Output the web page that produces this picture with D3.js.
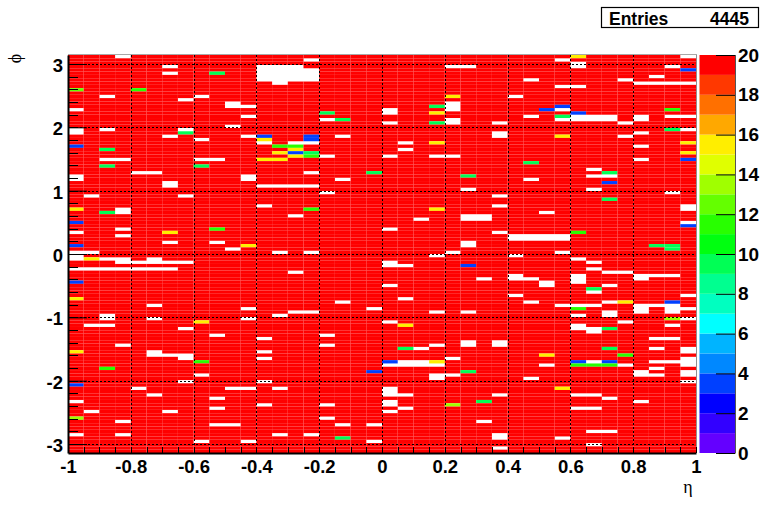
<!DOCTYPE html>
<html>
<head>
<meta charset="utf-8">
<script src="https://cdn.jsdelivr.net/npm/d3@7/dist/d3.min.js"></script>
<style>
html,body{margin:0;padding:0;background:#fff;}
svg{display:block;}
text{font-family:"Liberation Sans",Arial,sans-serif;font-weight:bold;fill:#000;}
</style>
</head>
<body>
<svg id="c" width="770" height="505"></svg>
<script>
// Binning of the histogram
const etaBins = 40, phiBins = 120, etaExtent = [-1, 1], phiExtent = [-Math.PI, Math.PI];
const zAxisMax = 20;
const entries = "4445";
const etaTicks = [-1,-0.8,-0.6,-0.4,-0.2,0,0.2,0.4,0.6,0.8,1];
const phiTicks = [-3,-2,-1,0,1,2,3];
const zTicks = [0,2,4,6,8,10,12,14,16,18,20];
const zBandColors = ["#6400ff","#3200ff","#0000ff","#0040ff","#0088ff","#00b4ff","#00ffff","#00ffc0","#00ff90","#00ff55",
  "#00ff10","#28ff00","#64ff00","#a0ff00","#e0ff00","#ffee00","#ffa800","#ff7000","#ff3800","#ff0000"];

// Cells as [eta bin, phi bin counted from the top]; every other cell is at or above the scale maximum.
const emptyCells = [[3,0],[39,0],[15,1],[31,1],[32,2],[6,3],[12,3],[13,3],[14,3],[24,3],[25,3],[32,3],[38,3],
[12,4],[13,4],[14,4],[15,4],[6,5],[12,5],[13,5],[14,5],[15,5],[12,6],[13,6],[14,6],[15,6],[37,6],
[12,7],[13,7],[14,7],[15,7],[29,7],[35,7],[13,8],[36,8],[37,8],[38,8],[39,8],[31,9],[32,9],
[2,12],[8,12],[28,12],[7,13],[10,14],[24,14],[10,15],[11,15],[24,15],[0,16],[20,16],[24,16],[31,16],[20,17],
[11,18],[29,18],[32,18],[33,18],[34,18],[36,18],[38,18],[39,18],[16,19],[24,19],[31,19],[32,19],[33,19],[34,19],[36,19],
[20,20],[24,20],[27,20],[35,20],[10,21],[0,22],[2,22],[7,22],[39,22],[0,23],[27,23],[36,23],
[6,24],[11,24],[17,24],[27,24],[35,24],[8,25],[12,26],[14,26],[15,26],[21,26],[36,27],[21,28],
[16,30],[20,30],[23,30],[24,30],[2,31],[3,31],[8,31],[9,31],[36,31],[33,34],[4,35],[5,35],[15,35],
[0,36],[11,36],[33,36],[34,36],[0,37],[11,37],[17,37],[29,37],[6,38],[6,39],[12,39],[13,39],[14,39],[15,39],
[25,40],[33,40],[16,41],[38,41],[1,42],[7,42],[27,42],[12,45],[27,45],[39,45],[3,46],[39,46],[3,47],[30,47],
[14,48],[25,48],[26,48],[22,49],[25,49],[26,49],[39,50],[3,52],[20,52],[0,53],[27,53],[3,54],[28,54],[29,54],[30,54],[31,54],
[28,55],[29,55],[30,55],[31,55],[6,56],[9,56],[25,56],[25,57],[10,58],[0,59],[1,59],[13,59],[15,59],[24,59],[31,59],
[0,60],[23,60],[28,60],[0,61],[2,61],[3,61],[5,61],[32,61],[3,62],[4,62],[5,62],[6,62],[7,62],[20,62],[33,62],
[20,63],[21,63],[0,64],[1,64],[2,64],[3,64],[4,64],[5,64],[6,64],[33,64],[14,65],[34,65],[35,65],
[28,66],[32,66],[36,66],[37,66],[38,66],[26,67],[28,67],[29,67],[32,67],[36,67],[30,68],[32,68],[20,69],[30,69],[34,69],
[33,71],[28,72],[39,72],[21,73],[17,74],[29,74],[34,74],[5,75],[31,75],[32,75],[33,75],[36,75],[37,75],[38,75],
[11,76],[19,76],[36,76],[38,76],[39,76],[14,77],[15,77],[23,77],[25,77],[34,77],[36,77],[38,77],
[2,78],[13,78],[32,78],[34,78],[2,79],[5,79],[11,79],[39,79],[20,80],[35,80],[1,81],[2,81],[32,81],[38,81],
[7,82],[32,82],[33,82],[33,83],[9,84],[16,84],[12,85],[37,85],[38,85],[25,86],[27,86],[3,87],[16,87],[23,87],[25,87],[27,87],
[22,88],[37,88],[39,88],[5,89],[12,89],[39,89],[5,90],[6,90],[7,90],[7,91],[12,91],[24,91],[39,91],
[21,92],[22,92],[33,92],[37,92],[38,92],[39,92],[20,93],[21,93],[22,93],[23,93],[30,93],[35,93],[39,93],
[37,94],[36,95],[39,95],[8,96],[23,96],[24,96],[36,96],[37,96],[39,96],[23,97],[29,97],[7,98],[12,98],[39,98],
[4,100],[10,100],[11,100],[13,100],[20,100],[20,101],[5,102],[20,102],[21,102],[27,102],[32,102],[33,102],[9,103],[34,103],
[0,104],[20,104],[36,104],[12,105],[16,105],[20,105],[9,106],[21,106],[32,106],[33,106],[1,107],[6,107],[20,107],
[16,109],[3,110],[26,110],[9,111],[10,111],[17,111],[19,111],[33,113],[34,113],[0,114],[3,114],[13,114],[15,114],[27,114],
[27,115],[31,115],[8,116],[11,116],[19,116],[33,117],[27,118]];
const value3Cells = [[39,4],[31,15],[30,16],[32,17],[12,24],[15,24],[15,25],[0,27],[14,29],[39,31],[34,38],[0,50],[39,51],
[0,57],[25,63],[0,68],[38,74],[19,95],[0,99],[20,92],[32,92],[34,92]];
const value9Cells = [[9,5],[16,17],[17,19],[23,15],[7,23],[31,18],[23,20],[38,22],[2,28],[15,29],[2,33],[8,33],[19,35],[34,35],
[25,36],[2,47],[34,43],[37,57],[38,57],[38,58],[33,70],[21,88],[34,88],[34,82],[25,95],[26,104],[17,115],[29,32]];
const value11Cells = [[4,10],[38,16],[13,27],[14,27],[15,30],[15,46],[32,53],[9,52],[32,76],[8,92],[2,94],[35,90],[32,93],[33,93],[34,93]];
const value12Cells = [[0,10]];
const value13Cells = [[38,79],[0,109],[24,105]];
const value15Cells = [[32,0],[24,12],[23,17],[12,25],[31,24],[14,28],[13,29],[14,30],[12,31],[13,31],[23,26],[39,26],[39,29],
[0,46],[23,46],[6,53],[11,57],[1,61],[0,73],[35,74],[21,81],[8,80],[0,89],[30,90],[23,92],[31,100]];

const svg = d3.select("#c");
const plot = {l:68, r:696, t:55, b:453};
const x = d3.scaleLinear().domain(etaExtent).range([plot.l, plot.r]);
const y = d3.scaleLinear().domain(phiExtent).range([plot.b, plot.t]);
const z = d3.scaleLinear().domain([0, zAxisMax]).range([453, 55]);
const color = v => zBandColors[Math.min(Math.floor(v), zBandColors.length - 1)];

const etaStep = (etaExtent[1]-etaExtent[0]) / etaBins;
const phiStep = (phiExtent[1]-phiExtent[0]) / phiBins;

// Build grid of bin contents
const key = (c,r) => c + "_" + r;
const contents = new Map();
emptyCells.forEach(([c,r]) => contents.set(key(c,r), 0));
[[3.5,value3Cells],[9.5,value9Cells],[11.5,value11Cells],[12.5,value12Cells],[13.5,value13Cells],[15.5,value15Cells]]
  .forEach(([v,list]) => list.forEach(([c,r]) => contents.set(key(c,r), v)));
const cells = [];
d3.range(etaBins).forEach(c => d3.range(phiBins).forEach(r => {
  const v = contents.has(key(c,r)) ? contents.get(key(c,r)) : zAxisMax;
  if (v > 0) cells.push({c, r, v});
}));

svg.append("g").selectAll("rect").data(cells).join("rect")
  .attr("x", d => x(etaExtent[0] + d.c*etaStep))
  .attr("width", x(etaStep) - x(0))
  .attr("y", d => y(phiExtent[1] - d.r*phiStep))
  .attr("height", y(0) - y(phiStep))
  .attr("fill", d => color(d.v));

// Dotted grid
const grid = svg.append("g").attr("stroke","#000").attr("stroke-width",1).attr("stroke-dasharray","2,2");
grid.selectAll(".v").data(etaTicks.slice(1,-1)).join("line").attr("class","v")
  .attr("x1", d=>Math.round(x(d))+0.5).attr("x2", d=>Math.round(x(d))+0.5).attr("y1",plot.t).attr("y2",plot.b);
grid.selectAll(".h").data(phiTicks).join("line").attr("class","h")
  .attr("y1", d=>Math.round(y(d))+0.5).attr("y2", d=>Math.round(y(d))+0.5).attr("x1",plot.l).attr("x2",plot.r);

// Frame
svg.append("line").attr("x1",plot.l).attr("x2",plot.r+1).attr("y1",plot.t-0.5).attr("y2",plot.t-0.5).attr("stroke","#a8a8a8");
svg.append("line").attr("x1",plot.r+0.5).attr("x2",plot.r+0.5).attr("y1",plot.t).attr("y2",plot.b).attr("stroke","#909090");

// Minor ticks
const minorEta = d3.range(0, etaBins+1).map(i => etaExtent[0] + i*etaStep);
const ticks = svg.append("g").attr("stroke","#000");
ticks.selectAll(".mx").data(minorEta).join("line").attr("class","mx")
  .attr("x1", d=>Math.round(x(d))+0.5).attr("x2", d=>Math.round(x(d))+0.5).attr("y1",plot.b).attr("y2",plot.b-6);
const minorPhi = d3.range(-15,16).map(i => i*0.2);
ticks.selectAll(".my").data(minorPhi).join("line").attr("class","my")
  .attr("y1", d=>Math.round(y(d))+0.5).attr("y2", d=>Math.round(y(d))+0.5).attr("x1",plot.l).attr("x2",plot.l+10);

// Axes
const labelFont = '"Liberation Sans",Arial,sans-serif';
const fmtNum = d => d3.format("")(d).replace("\u2212","-");
const xAxis = d3.axisBottom(x).tickValues(etaTicks).tickFormat(fmtNum).tickSize(0).tickPadding(7);
const gx = svg.append("g").attr("transform",`translate(0,${plot.b})`).call(xAxis);
const yAxis = d3.axisLeft(y).tickValues(phiTicks).tickFormat(fmtNum).tickSize(0).tickPadding(5);
const gy = svg.append("g").attr("transform",`translate(${plot.l},0)`).call(yAxis);
[gx,gy].forEach(g => {
  g.attr("font-family",null).attr("font-size",null);
  g.selectAll("text").style("font-size","18.5px").style("font-weight","bold").style("font-family",labelFont);
});
gy.selectAll("text").attr("dy","0.4em");
gx.select(".domain").attr("stroke","#000").attr("stroke-width",2);
gy.select(".domain").attr("stroke","#000").attr("stroke-width",2);
gy.selectAll(".tick").append("line").attr("x1",0).attr("x2",19).attr("stroke","#000").attr("stroke-width",1);

// Axis titles
svg.append("text").attr("transform","translate(20.5,58.5) rotate(-90)").attr("text-anchor","middle")
  .style("font-family",'"Liberation Serif",serif').style("font-weight","normal").style("font-size","18px").text("\u03d5");
svg.append("text").attr("x",688).attr("y",493).attr("text-anchor","middle")
  .style("font-family",'"Liberation Serif",serif').style("font-weight","normal").style("font-size","18px").text("\u03b7");

// Colour bar
const bar = {l:699.5, r:735};
svg.append("g").selectAll("rect").data(zBandColors).join("rect")
  .attr("x",bar.l).attr("width",bar.r-bar.l)
  .attr("y",(d,i)=>z(i+1)).attr("height",(d,i)=>z(i)-z(i+1))
  .attr("fill",d=>d);
svg.append("line").attr("x1",bar.r+0.5).attr("x2",bar.r+0.5).attr("y1",55).attr("y2",453.5).attr("stroke","#555");
const zAxis = d3.axisRight(z).tickValues(zTicks).tickSize(0).tickPadding(3).tickFormat(d3.format("d"));
const gz = svg.append("g").attr("transform",`translate(${bar.r},0)`).call(zAxis);
gz.select(".domain").remove();
gz.selectAll("text").style("font-size","19px").style("font-weight","bold").style("font-family",labelFont);
gz.selectAll(".tick").append("line").attr("x1",-19).attr("x2",0).attr("stroke","#000");

// Stats box
svg.append("rect").attr("x",601.5).attr("y",7.5).attr("width",157).attr("height",20).attr("fill","#fff").attr("stroke","#000").attr("stroke-width",1.2);
svg.append("text").attr("x",609).attr("y",24.5).style("font-size","17.5px").text("Entries");
svg.append("text").attr("x",749).attr("y",24.5).attr("text-anchor","end").style("font-size","17.5px").text(entries);
</script>
</body>
</html>
